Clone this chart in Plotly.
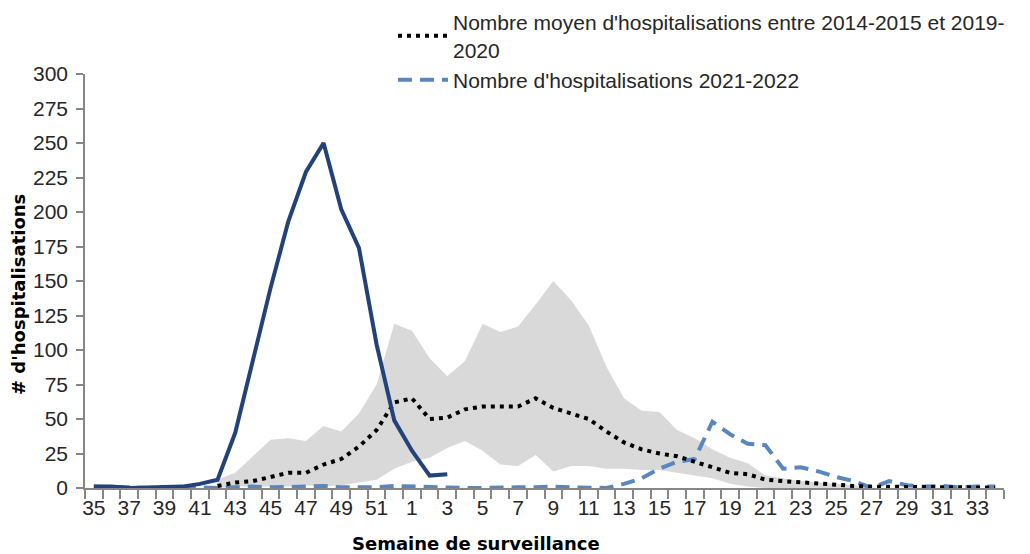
import plotly.graph_objects as go

weeks = [str(w) for w in list(range(35, 53)) + list(range(1, 35))]
xpos = list(range(len(weeks)))

# 2022-2023 season (solid), weeks 35 -> 3
season_2223 = [1, 1, 0, 0.5, 1, 1, 3, 6, 40, 93, 145, 193, 229, 250, 202, 174, 104, 49,
               27, 9, 10]

# 2021-2022 season (dashed)
season_2122 = [1, 1, 0.5, 0, 0.5, 0.5, 0.5, 0, 0.5, 1, 0.5, 0.5, 1, 1.5, 0.5, 0.5, 0.5, 1.5,
               1, 0.5, 0, 0, 0, 0.5, 0.5, 0.5, 1, 0.5, 0, 0, 3, 7, 14, 19, 21, 48,
               39, 32, 31, 14, 15, 12, 8, 5, 0, 5, 2, 1, 1.5, 0.5, 1, 1]

# mean 2014-2015 to 2019-2020 (dotted), weeks 42 -> 34
mean_hist = [1.5, 4, 5, 8, 11, 11, 17, 21, 30, 42, 62,
             65, 50, 51, 57, 59, 59, 59, 65, 58, 54, 50, 41, 33, 28, 25, 23, 19, 15,
             11, 10, 6, 5, 4, 3, 2, 1.5, 1, 1, 0.5, 0.5, 0.3, 0.3, 0.3, 0.3]

# min / max range (grey band), weeks 42 -> 27
band_max = [6, 11, 23, 35, 36, 34, 45, 41, 54, 75, 119,
            114, 94, 81, 92, 119, 113, 117, 133, 150, 136, 118, 88, 65, 56, 55, 42, 36,
            28, 22, 18, 9, 7, 5, 4, 3, 2, 1]
band_min = [0, 1, 1, 1, 1, 2, 1, 2, 4, 6, 14,
            19, 22, 29, 34, 27, 17, 16, 24, 12, 16, 16, 14, 14, 13, 13, 11, 9,
            7, 3, 1, 0, 0, 0, 0, 0, 0, 0]

mean_start = weeks.index("42")
band_start = weeks.index("42")

x_solid = xpos[:len(season_2223)]
x_mean = xpos[mean_start:mean_start + len(mean_hist)]
x_band = xpos[band_start:band_start + len(band_max)]

FONT = "Liberation Sans, Arial, sans-serif"
TITLE_FONT = "DejaVu Sans, Verdana, sans-serif"

# page offset of 8px (default body margin) is compensated in figure size / margins
W, H = 1022, 546
L, T = 77, 66          # plot area left / top in figure px
PW, PH = 919, 414      # plot area size


def px_x(page_x):
    return (page_x - 8 - L) / PW


def px_y(page_y):
    return 1 - (page_y - 8 - T) / PH


fig = go.Figure()
fig.add_trace(go.Scatter(x=x_band, y=band_min, mode="lines", line=dict(width=0, color="#D9D9D9"),
                         showlegend=False, hoverinfo="skip"))
fig.add_trace(go.Scatter(x=x_band, y=band_max, mode="lines", line=dict(width=0, color="#D9D9D9"),
                         fill="tonexty", fillcolor="#D9D9D9", showlegend=False,
                         name="Min-Max"))
fig.add_trace(go.Scatter(x=xpos, y=season_2122, mode="lines",
                         line=dict(color="#5A86BE", width=4, dash="14px,8px"),
                         name="Nombre d'hospitalisations 2021-2022"))
fig.add_trace(go.Scatter(x=x_mean, y=mean_hist, mode="lines",
                         line=dict(color="#000000", width=4, dash="4px,5px"),
                         name="Nombre moyen d'hospitalisations entre 2014-2015 et 2019-<br>2020"))
fig.add_trace(go.Scatter(x=x_solid, y=season_2223, mode="lines",
                         line=dict(color="#24427A", width=4),
                         name="2022-2023", showlegend=False))

fig.update_layout(
    width=W, height=H,
    margin=dict(l=L, r=W - L - PW, t=T, b=H - T - PH, autoexpand=False),
    paper_bgcolor="white", plot_bgcolor="white",
    font=dict(family=FONT, size=21, color="#262626"),
    showlegend=True,
    legend=dict(x=px_x(393), y=px_y(2), xanchor="left", yanchor="top", traceorder="reversed",
                font=dict(size=21, color="#262626"), bgcolor="rgba(0,0,0,0)",
                itemwidth=50, tracegroupgap=0),
    xaxis=dict(range=[-0.5, 51.5], tickmode="array", tickvals=xpos[::2], ticktext=weeks[::2],
               ticks="", showgrid=False, zeroline=False, showline=True, linecolor="#868686",
               linewidth=1.5, tickfont=dict(size=21, color="#262626"),
               minor=dict(tickmode="linear", tick0=-0.5, dtick=1, ticks="outside", ticklen=9,
                          tickcolor="#868686", tickwidth=1.5, showgrid=False)),
    yaxis=dict(range=[0, 300], dtick=25, ticks="outside", ticklen=7, tickcolor="#868686",
               tickwidth=1.5, showgrid=False, zeroline=False, showline=True, linecolor="#868686",
               linewidth=1.5, tickfont=dict(size=21, color="#262626"), ticklabelstandoff=4),
    annotations=[
        dict(text="<b>Semaine de surveillance</b>", xref="paper", yref="paper",
             x=px_x(476), y=px_y(543), xanchor="center", yanchor="middle",
             showarrow=False, font=dict(family=TITLE_FONT, size=18, color="#000000")),
        dict(text="<b># d'hospitalisations</b>", xref="paper", yref="paper",
             x=px_x(18), y=px_y(295), xanchor="center", yanchor="middle",
             textangle=-90, showarrow=False, font=dict(family=TITLE_FONT, size=18, color="#000000")),
    ],
)

fig.write_html("out.html")
